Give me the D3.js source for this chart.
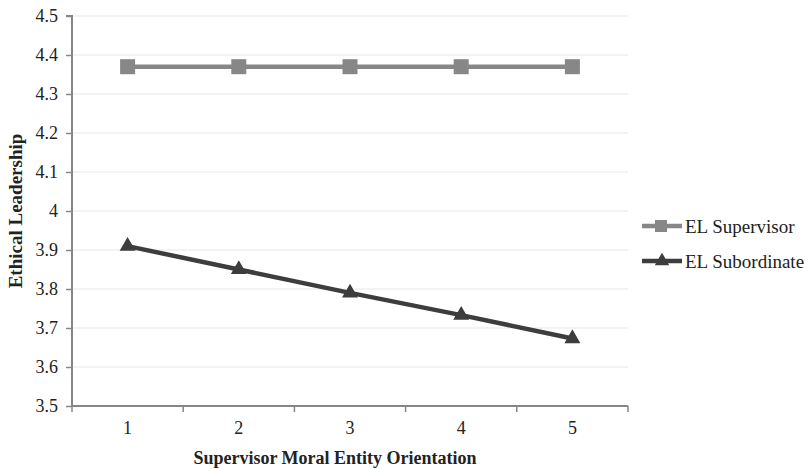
<!DOCTYPE html>
<html><head><meta charset="utf-8">
<script src="https://cdn.jsdelivr.net/npm/d3@7"></script>
<style>body{margin:0;background:#fff}</style>
</head><body>
<svg id="c" width="809" height="469"></svg>
<script>
const categories = ["1","2","3","4","5"];
const supervisor = [4.37, 4.37, 4.37, 4.37, 4.37];
const subordinate = [3.91, 3.85, 3.79, 3.733, 3.673];
const yTicks = [3.5,3.6,3.7,3.8,3.9,4,4.1,4.2,4.3,4.4,4.5];
const seriesNames = ["EL Supervisor","EL Subordinate"];

const svg = d3.select("#c");
const font = "'Liberation Serif', 'Times New Roman', serif";
const L = 72, R = 628, T = 16, B = 406;
const x = d3.scaleBand().domain(categories).range([L, R]);
const y = d3.scaleLinear().domain([3.5, 4.5]).range([B, T]);

// gridlines
svg.append("g").selectAll("line").data(yTicks.slice(1)).join("line")
  .attr("x1", L).attr("x2", R).attr("y1", d => y(d)).attr("y2", d => y(d))
  .attr("stroke", "#efefef").attr("stroke-width", 1.3);

// y axis
const ya = svg.append("g").attr("transform", `translate(${L},0)`)
  .call(d3.axisLeft(y).tickValues(yTicks).tickSize(6).tickPadding(8).tickFormat(d => d3.format("")(d)));
ya.attr("font-family", null).attr("font-size", null);
ya.select(".domain").attr("stroke", "#868686").attr("stroke-width", 2).attr("d", `M-6,${T}H0V${B}`);
ya.selectAll(".tick line").attr("stroke", "#868686").attr("stroke-width", 1.5);
ya.selectAll(".tick text").style("font-family", font).style("font-size", "18px").attr("fill", "#222");

// x axis
const xa = svg.append("g").attr("transform", `translate(0,${B})`)
  .call(d3.axisBottom(x).tickSize(0).tickPadding(15));
xa.attr("font-family", null).attr("font-size", null);
xa.select(".domain").attr("stroke", "#868686").attr("stroke-width", 2).attr("d", `M${L},0H${R}`);
xa.selectAll(".tick text").style("font-family", font).style("font-size", "18px").attr("fill", "#222");
const bounds = categories.map(c => x(c)).concat([x(categories[categories.length-1]) + x.bandwidth()]);
xa.append("g").selectAll("line").data(bounds).join("line")
  .attr("x1", d => d).attr("x2", d => d).attr("y1", 0).attr("y2", 6)
  .attr("stroke", "#868686").attr("stroke-width", 1.5);

const cx = i => x(categories[i]) + x.bandwidth() / 2;
const line = d3.line().x((d, i) => cx(i)).y(d => y(d));

const colSup = "#878787", colSub = "#3d3d3d";
svg.append("path").datum(supervisor).attr("d", line).attr("fill", "none")
  .attr("stroke", colSup).attr("stroke-width", 4.5);
svg.append("g").selectAll("rect").data(supervisor).join("rect")
  .attr("x", (d, i) => cx(i) - 7.5).attr("y", d => y(d) - 7.5)
  .attr("width", 15).attr("height", 15).attr("fill", colSup);

svg.append("path").datum(subordinate).attr("d", line).attr("fill", "none")
  .attr("stroke", colSub).attr("stroke-width", 4.5);
const tri = d3.symbol().type(d3.symbolTriangle).size(110);
svg.append("g").selectAll("path").data(subordinate).join("path")
  .attr("d", tri).attr("transform", (d, i) => `translate(${cx(i)},${y(d)})`).attr("fill", colSub);

// legend
const lg = svg.append("g");
const legY = [226, 261];
const cols = [colSup, colSub];
seriesNames.forEach((n, i) => {
  lg.append("line").attr("x1", 642).attr("x2", 682).attr("y1", legY[i]).attr("y2", legY[i])
    .attr("stroke", cols[i]).attr("stroke-width", 4.5);
  if (i === 0) lg.append("rect").attr("x", 655).attr("y", legY[i] - 6).attr("width", 12).attr("height", 12).attr("fill", cols[i]);
  else lg.append("path").attr("d", d3.symbol().type(d3.symbolTriangle).size(90)).attr("transform", `translate(662,${legY[i]})`).attr("fill", cols[i]);
  lg.append("text").attr("x", 685).attr("y", legY[i]).attr("dy", "0.35em")
    .style("font-family", font).style("font-size", "19px").attr("fill", "#222").text(n);
});

// titles
svg.append("text").attr("x", 335).attr("y", 464)
  .attr("text-anchor", "middle").style("font-family", font).style("font-weight", "bold")
  .style("font-size", "18px").attr("fill", "#222").text("Supervisor Moral Entity Orientation");
svg.append("text").attr("transform", `translate(22,211) rotate(-90)`)
  .attr("text-anchor", "middle").style("font-family", font).style("font-weight", "bold")
  .style("font-size", "19px").attr("fill", "#222").text("Ethical Leadership");
</script>
</body></html>
